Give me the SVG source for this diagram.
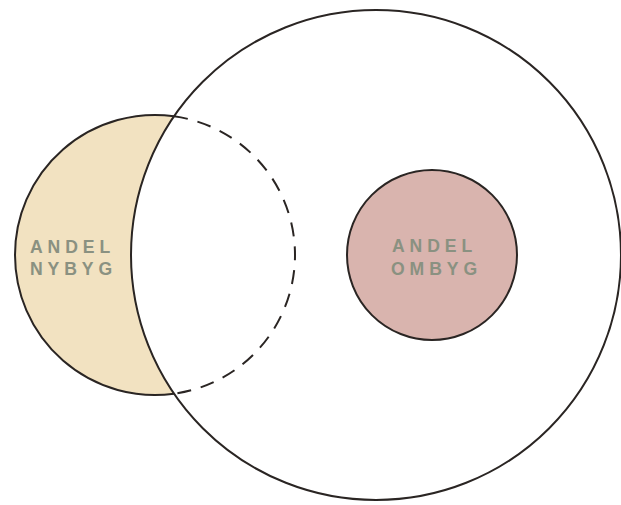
<svg xmlns="http://www.w3.org/2000/svg" width="621" height="505" viewBox="0 0 621 505">
<style>
.ln{fill:none;stroke:#2a2523;stroke-width:2}
.lbl{font-family:"Liberation Sans",Arial,sans-serif;font-weight:bold;font-size:17.6px;fill:#8a9181;letter-spacing:4.9px}
</style>
<rect width="621" height="505" fill="#ffffff"/>
<g id="nybyg">
<path d="M174.04 116.3 A140 140 0 1 0 174.04 393.7 A245 245 0 0 1 174.04 116.3 Z" fill="#f2e2c1"/>
<path class="ln" d="M174.04 116.3 A140 140 0 1 0 174.04 393.7"/>
<path class="ln" d="M174.04 116.3 A140 140 0 0 1 174.04 393.7" stroke-dasharray="14 10"/>
<text class="lbl" x="30" y="252.5">ANDEL</text>
<text class="lbl" x="30" y="275">NYBYG</text>
</g>
<g id="total">
<circle class="ln" cx="376" cy="255" r="245"/>
</g>
<g id="ombyg">
<circle cx="432" cy="255" r="85" fill="#d9b4ae" stroke="#2a2523" stroke-width="2"/>
<text class="lbl" x="392" y="252">ANDEL</text>
<text class="lbl" x="391" y="275">OMBYG</text>
</g>
</svg>
